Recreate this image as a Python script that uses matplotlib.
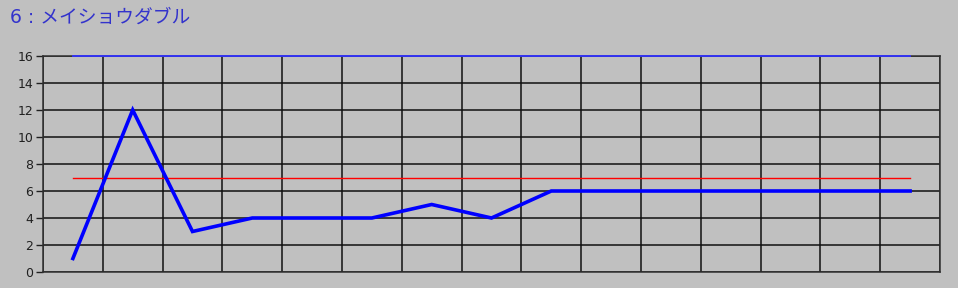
import matplotlib
matplotlib.use("Agg")
import matplotlib.pyplot as plt
import numpy as np

title = "6 : メイショウダブル"
values = [1, 12, 3, 4, 4, 4, 5, 4, 6, 6, 6, 6, 6, 6, 6]
ref_line = [7] * 15
top_line = [16] * 15
yticks = [0, 2, 4, 6, 8, 10, 12, 14, 16]

plt.rcParams['font.family'] = ['DejaVu Sans', 'Noto Sans CJK JP']
W, H = 958, 288
fig = plt.figure(figsize=(W / 100, H / 100), dpi=100, facecolor="#c0c0c0")
ax = fig.add_axes([43 / W, (H - 272) / H, (940 - 43) / W, (272 - 56) / H])
ax.set_facecolor("#c0c0c0")

n = len(values)
x = np.arange(n) + 0.5
ax.set_xlim(0, n)
ax.set_ylim(0, 16)
ax.set_xticks(np.arange(n + 1))
ax.set_xticklabels([])
ax.set_yticks(yticks)
ax.set_yticklabels([str(v) for v in yticks], fontsize=9, color="#202020")
ax.tick_params(axis='x', length=0)
ax.tick_params(axis='y', length=5, width=1, color="#202020", pad=2)
ax.grid(True, color="#101010", linewidth=1.1)
for s in ax.spines.values():
    s.set_color("#303030")
    s.set_linewidth(1.1)

ax.plot(x, top_line, color="#3333ff", linewidth=1.3, clip_on=False, zorder=6)
ax.plot(x, ref_line, color="#ff0000", linewidth=1.0, zorder=4)
ax.plot(x, values, color="#0000ff", linewidth=2.6, zorder=5, solid_joinstyle='miter')

fig.text(10 / W, 1 - 17 / H, title, color="#3333cc", fontsize=13.5, va="center", ha="left")

fig.savefig("out.png", dpi=100, facecolor=fig.get_facecolor())
